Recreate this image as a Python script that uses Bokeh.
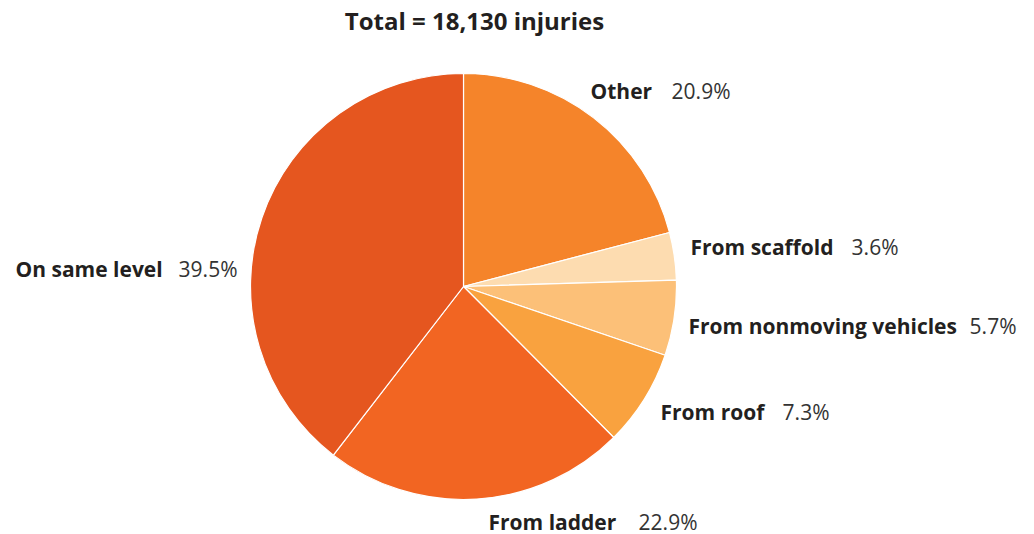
import math
from bokeh.plotting import figure
from bokeh.models import Range1d, ColumnDataSource
from bokeh.core.properties import value
from bokeh.embed import file_html
from bokeh.resources import INLINE

# ---- data ----
total_injuries = "18,130"
categories = ["Other", "From scaffold", "From nonmoving vehicles", "From roof", "From ladder", "On same level"]
percents = [20.9, 3.6, 5.7, 7.3, 22.9, 39.5]
colors = ["#F5842A", "#FDDCB0", "#FCC078", "#F9A23F", "#F26522", "#E5561F"]

# ---- layout (pixel space, y measured from top) ----
W, H = 1034, 534
CX, CY, R = 463, 286, 213
# label anchors: (name left x, percent right x, baseline-middle y)
label_pos = [(590, 730, 90), (690, 898, 246), (688, 1016, 325),
             (660, 829, 411), (488, 697, 521), (15, 237, 268)]

FONT = "Open Sans"
INK = "#231F20"

p = figure(width=W, height=H, output_backend="svg", toolbar_location=None,
           x_range=Range1d(0, W), y_range=Range1d(0, H),
           x_axis_type=None, y_axis_type=None, min_border=0,
           outline_line_color=None, background_fill_color="white",
           border_fill_color="white")
p.grid.visible = False

tot = sum(percents)
starts, ends = [], []
c = 0.0
for v in percents:
    c0 = c
    c += v / tot
    # clockwise from 12 o'clock
    starts.append(math.pi / 2 - 2 * math.pi * c)
    ends.append(math.pi / 2 - 2 * math.pi * c0)

src = ColumnDataSource(dict(start=starts, end=ends, color=colors, cat=categories))
p.wedge(x=CX, y=H - CY, radius=R, start_angle="start", end_angle="end",
        fill_color="color", line_color="white", line_width=1.2, source=src)

name_src = ColumnDataSource(dict(
    x=[lp[0] for lp in label_pos], y=[H - lp[2] for lp in label_pos], t=categories))
pct_src = ColumnDataSource(dict(
    x=[lp[1] for lp in label_pos], y=[H - lp[2] for lp in label_pos],
    t=[f"{v:.1f}%" for v in percents]))

p.text(x="x", y="y", text="t", source=name_src, text_font=value(FONT),
       text_font_style="bold", text_font_size="21px", text_color=INK,
       text_align="left", text_baseline="middle")
p.text(x="x", y="y", text="t", source=pct_src, text_font=value(FONT),
       text_font_style="normal", text_font_size="21px", text_color="#333333",
       text_align="right", text_baseline="middle")

p.text(x=[474], y=[H - 20], text=[f"Total = {total_injuries} injuries"],
       text_font=value(FONT), text_font_style="bold", text_font_size="24px",
       text_color=INK, text_align="center", text_baseline="middle")

open("out.html", "w").write(file_html(p, INLINE))
